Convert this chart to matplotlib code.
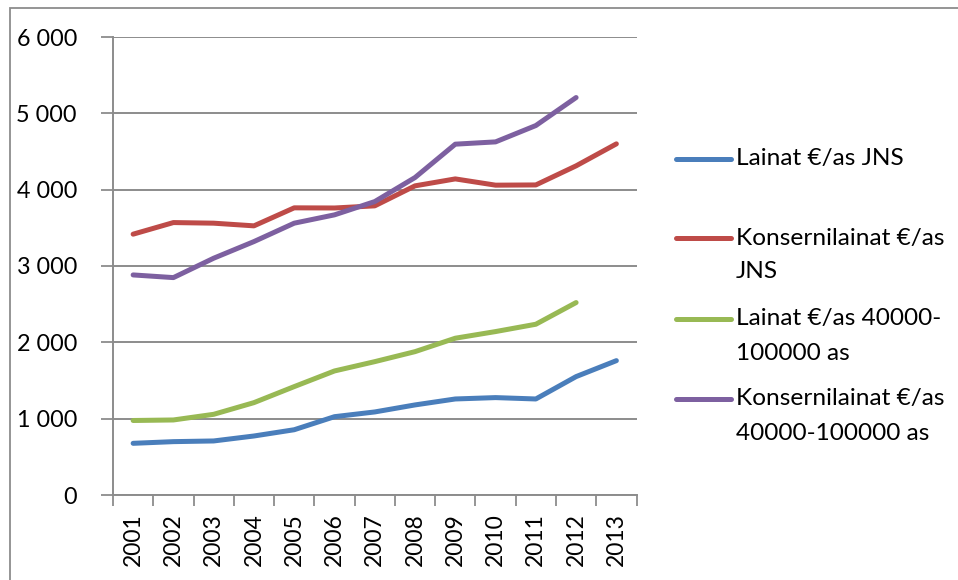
import matplotlib
matplotlib.use("Agg")
import matplotlib.pyplot as plt
from matplotlib.lines import Line2D
from matplotlib.patches import Rectangle
from matplotlib.ticker import FuncFormatter, FixedLocator

plt.rcParams['font.family'] = ['Lato', 'DejaVu Sans']

years = ["2001", "2002", "2003", "2004", "2005", "2006", "2007",
         "2008", "2009", "2010", "2011", "2012", "2013"]

lainat_jns = [677, 699, 708, 773, 855, 1026, 1088, 1180, 1258, 1276, 1258, 1551, 1760]
konsern_jns = [3417, 3569, 3561, 3526, 3762, 3760, 3788, 4050, 4141, 4059, 4062, 4312, 4600]
lainat_40k = [976, 983, 1057, 1210, 1420, 1625, 1747, 1878, 2054, 2141, 2237, 2521]
konsern_40k = [2883, 2848, 3102, 3320, 3561, 3670, 3844, 4159, 4596, 4626, 4840, 5207]

labels = ["Lainat €/as JNS", "Konsernilainat €/as\nJNS",
          "Lainat €/as 40000-\n100000 as", "Konsernilainat €/as\n40000-100000 as"]
colors = ["#4a7ebb", "#be4b48", "#98b954", "#7d60a0"]
series = [lainat_jns, konsern_jns, lainat_40k, konsern_40k]

W, H = 958, 580
fig = plt.figure(figsize=(W / 100, H / 100), dpi=100)
fig.patch.set_facecolor("white")

# outer chart border (only top/left visible in reference)
fig.add_artist(Rectangle((10 / W, -0.1), 2.0, 1 - 8 / H + 0.1, transform=fig.transFigure,
                         fill=False, edgecolor="#8c8c8c", linewidth=1.3, zorder=0))

ax = fig.add_axes([113 / W, (H - 495) / H, (636.5 - 113) / W, (495 - 37) / H])
ax.set_facecolor("white")

grid_c = "#8c8c8c"
for i, (vals, c) in enumerate(zip(series, colors)):
    ax.plot(range(len(vals)), vals, color=c, linewidth=3.6, solid_capstyle="round",
            solid_joinstyle="round", zorder=3)

ax.set_xlim(-0.5, len(years) - 0.5)
ax.set_ylim(0, 6000)
ax.yaxis.set_major_locator(FixedLocator(range(0, 6001, 1000)))
ax.yaxis.set_major_formatter(FuncFormatter(lambda v, p: f"{int(v):,}".replace(",", " ")))
ax.grid(axis="y", color=grid_c, linewidth=1.4, zorder=1)
ax.set_axisbelow(True)

# x ticks at category boundaries, labels at centers
ax.set_xticks([i - 0.5 for i in range(len(years) + 1)])
ax.set_xticklabels([])
ax.set_xticks(range(len(years)), minor=True)
ax.set_xticklabels(years, minor=True, rotation=90, fontsize=16.5)
ax.tick_params(axis="x", which="minor", length=0, pad=13)
ax.tick_params(axis="x", which="major", length=8, width=1.3, color=grid_c, direction="out")
ax.tick_params(axis="y", length=9, width=1.3, color=grid_c, labelsize=16.8, pad=17)

for s in ["top", "right"]:
    ax.spines[s].set_visible(False)
for s in ["left", "bottom"]:
    ax.spines[s].set_color(grid_c)
    ax.spines[s].set_linewidth(1.4)

# legend drawn manually to match layout
leg_y = [159, 238, 319, 399]
line_gap = 34
for lab, c, y in zip(labels, colors, leg_y):
    fig.add_artist(Line2D([676 / W, 731 / W], [(H - y) / H, (H - y) / H],
                          transform=fig.transFigure, color=c, linewidth=3.6,
                          solid_capstyle="round"))
    for k, part in enumerate(lab.split("\n")):
        fig.text(736 / W, (H - y - k * line_gap) / H, part, fontsize=17.6,
                 va="center", ha="left", color="black")

fig.savefig("out.png", dpi=100)
